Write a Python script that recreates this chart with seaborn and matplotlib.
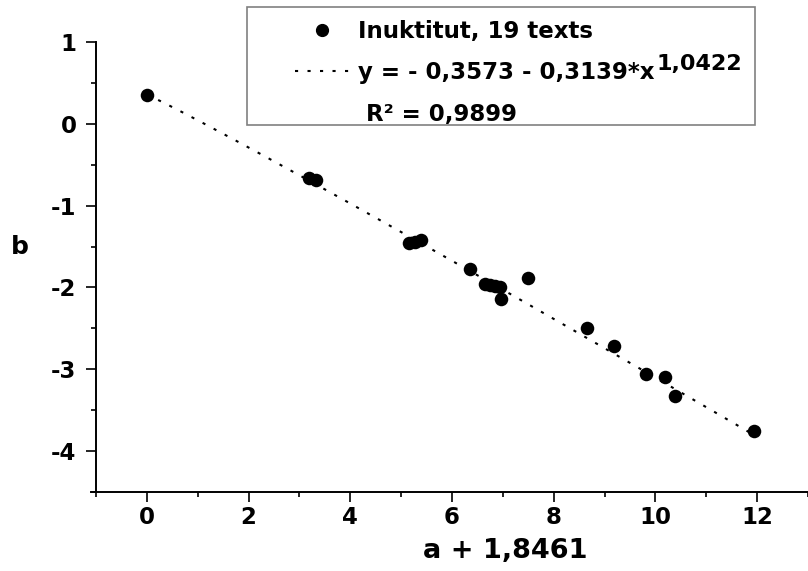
import numpy as np
import pandas as pd
import matplotlib
matplotlib.use("Agg")
import matplotlib.pyplot as plt
from matplotlib.lines import Line2D
from matplotlib.patches import Rectangle
from matplotlib.ticker import MultipleLocator
import seaborn as sns

# ---- data ----
x_vals = [0.00, 3.18, 3.32, 5.16, 5.28, 5.40, 6.35, 6.64, 6.75, 6.85, 6.94,
          6.96, 7.50, 8.65, 9.18, 9.82, 10.18, 10.39, 11.93]
y_vals = [0.348, -0.664, -0.688, -1.456, -1.44, -1.423, -1.775, -1.962, -1.975,
          -1.985, -1.995, -2.137, -1.88, -2.50, -2.72, -3.06, -3.10, -3.325, -3.75]
fit_intercept = 0.3573
fit_coef = 0.3139
fit_exp = 1.0422
x_ticks = [0, 2, 4, 6, 8, 10, 12]
y_ticks = [1, 0, -1, -2, -3, -4]
legend_labels = ["Inuktitut, 19 texts",
                 "y = - 0,3573 - 0,3139*x",
                 " R² = 0,9899"]
exp_label = "1,0422"
x_label = "a + 1,8461"
y_label = "b"

FONT = "DejaVu Sans"
sns.set_style("ticks")
plt.rcParams["font.family"] = [FONT, "Liberation Sans"]
plt.rcParams["font.weight"] = "bold"
plt.rcParams["text.color"] = "black"
plt.rcParams["axes.labelcolor"] = "black"
plt.rcParams["xtick.color"] = "black"
plt.rcParams["ytick.color"] = "black"
plt.rcParams["axes.unicode_minus"] = False

W, H = 808, 571
fig = plt.figure(figsize=(W / 100, H / 100), dpi=100)
ax = fig.add_axes([96 / W, (H - 492) / H, (W - 96) / W, (492 - 42) / H])

df = pd.DataFrame({"x": x_vals, "y": y_vals})
xf = np.linspace(min(x_vals), max(x_vals), 200)
fit_df = pd.DataFrame({"x": xf, "y": fit_intercept - fit_coef * xf ** fit_exp})

dot_style = (0, (1.5, 4.5))
sns.lineplot(data=fit_df, x="x", y="y", ax=ax, color="black", lw=1.5,
             linestyle=dot_style, sort=False)
sns.scatterplot(data=df, x="x", y="y", ax=ax, color="black", s=95,
                linewidth=0, legend=False, zorder=3)

ax.set_xlim(-1, 13)
ax.set_ylim(-4.5, 1)
ax.set_xticks(x_ticks)
ax.set_yticks(y_ticks)
ax.xaxis.set_minor_locator(MultipleLocator(1))
ax.yaxis.set_minor_locator(MultipleLocator(0.5))
for s in ["top", "right"]:
    ax.spines[s].set_visible(False)
for s in ["left", "bottom"]:
    ax.spines[s].set_linewidth(1.4)
    ax.spines[s].set_color("black")
ax.spines["bottom"].set_bounds(-1.1, 13)
ax.tick_params(axis="both", which="major", length=7, width=1.2, colors="black",
               labelsize=16.5, direction="out")
ax.tick_params(axis="both", which="minor", length=3.5, width=1.2, colors="black",
               direction="out")
ax.tick_params(axis="x", which="major", pad=3)
ax.tick_params(axis="y", which="major", pad=7)
for lab in ax.get_xticklabels() + ax.get_yticklabels():
    lab.set_fontweight("bold")
    lab.set_color("black")

ax.set_xlabel(x_label, fontsize=19.5, fontweight="bold", color="black")
ax.set_ylabel(y_label, fontsize=18, fontweight="bold", rotation=0, color="black")
ax.xaxis.set_label_coords((505 - 96) / (W - 96), -(551 - 492) / (492 - 42))
ax.yaxis.set_label_coords((20 - 96) / (W - 96), (492 - 247) / (492 - 42))
ax.xaxis.label.set_va("center")
ax.yaxis.label.set_va("center")
ax.yaxis.label.set_ha("center")

# legend box
fig.patches.append(Rectangle((247 / W, (H - 125) / H), (755 - 247) / W, (125 - 7) / H,
                             transform=fig.transFigure, fill=True, facecolor="white",
                             edgecolor="#808080", lw=1.2, zorder=5))
handles = [Line2D([], [], marker="o", ls="none", color="black", markersize=8.5),
           Line2D([], [], ls=dot_style, lw=1.5, color="black"),
           Line2D([], [], ls="none")]
leg = fig.legend(handles, legend_labels, loc="upper left",
                 bbox_to_anchor=(295 / W, (H - 20) / H), bbox_transform=fig.transFigure,
                 frameon=False, borderpad=0, borderaxespad=0, handlelength=2.35,
                 handletextpad=0.42, labelspacing=0.8,
                 prop={"family": FONT, "weight": "bold", "size": 16.5})
leg.set_zorder(6)
for t in leg.get_texts():
    t.set_color("black")

# superscript exponent placed right after the equation text
fig.canvas.draw()
eq_text = leg.get_texts()[1]
bb = eq_text.get_window_extent()
base = eq_text.get_transform().transform((0, 0))[1]
fig.text((bb.x1 + 2) / W, (base + 9) / H, exp_label, fontsize=16,
         fontweight="bold", ha="left", va="baseline", zorder=7, color="black")

fig.savefig("out.png", dpi=100)
